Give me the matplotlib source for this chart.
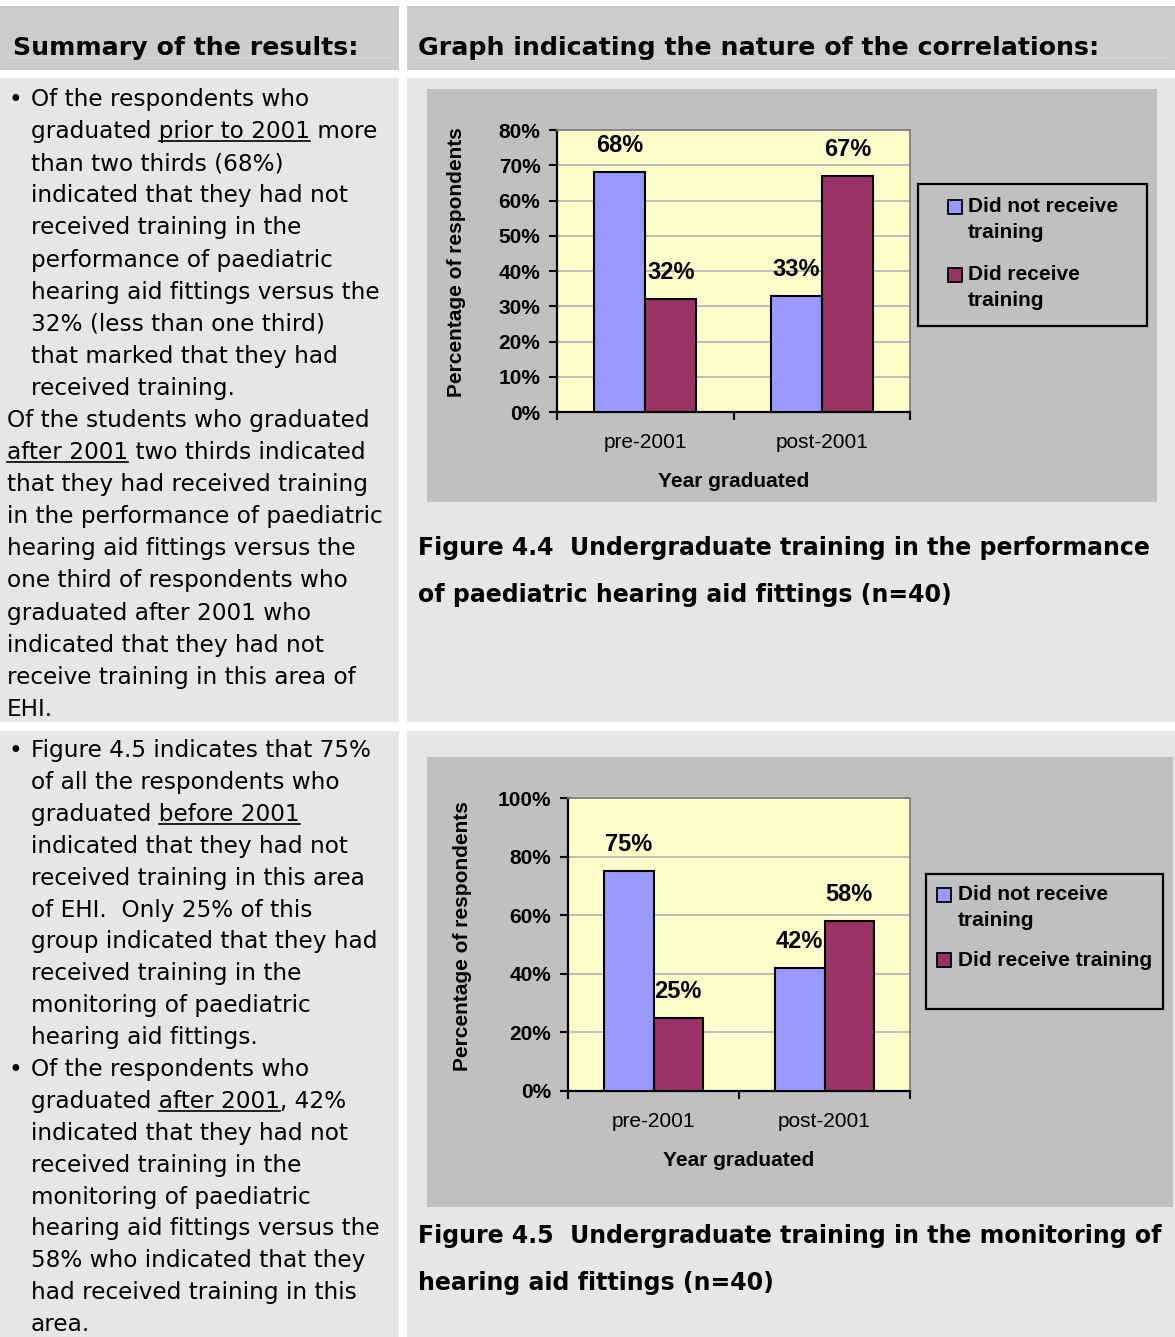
import numpy as np
import matplotlib
matplotlib.use('Agg')
import matplotlib.pyplot as plt
from matplotlib.patches import Rectangle
from matplotlib.lines import Line2D

plt.rcParams['font.family'] = ['Liberation Sans', 'DejaVu Sans']

W, H = 1175, 1337

# chart data
years = ['pre-2001', 'post-2001']
perf_not_trained = [68, 33]
perf_trained = [32, 67]
mon_not_trained = [75, 42]
mon_trained = [25, 58]
colors = ['#9999ff', '#993366']
legend_perf = ['Did not receive\ntraining', 'Did receive\ntraining']
legend_mon = ['Did not receive\ntraining', 'Did receive training']

head_left = 'Summary of the results:'
head_right = 'Graph indicating the nature of the correlations:'
caption_perf = ['Figure 4.4  Undergraduate training in the performance',
                'of paediatric hearing aid fittings (n=40)']
caption_mon = ['Figure 4.5  Undergraduate training in the monitoring of',
               'hearing aid fittings (n=40)']

# b = bullet line, i = indented line, p = plain; _text_ is underlined
summary_perf = [
    ('b', 'Of the respondents who'),
    ('i', 'graduated _prior to 2001_ more'),
    ('i', 'than two thirds (68%)'),
    ('i', 'indicated that they had not'),
    ('i', 'received training in the'),
    ('i', 'performance of paediatric'),
    ('i', 'hearing aid fittings versus the'),
    ('i', '32% (less than one third)'),
    ('i', 'that marked that they had'),
    ('i', 'received training.'),
    ('p', 'Of the students who graduated'),
    ('p', '_after 2001_ two thirds indicated'),
    ('p', 'that they had received training'),
    ('p', 'in the performance of paediatric'),
    ('p', 'hearing aid fittings versus the'),
    ('p', 'one third of respondents who'),
    ('p', 'graduated after 2001 who'),
    ('p', 'indicated that they had not'),
    ('p', 'receive training in this area of'),
    ('p', 'EHI.'),
]
summary_mon = [
    ('b', 'Figure 4.5 indicates that 75%'),
    ('i', 'of all the respondents who'),
    ('i', 'graduated _before 2001_'),
    ('i', 'indicated that they had not'),
    ('i', 'received training in this area'),
    ('i', 'of EHI.  Only 25% of this'),
    ('i', 'group indicated that they had'),
    ('i', 'received training in the'),
    ('i', 'monitoring of paediatric'),
    ('i', 'hearing aid fittings.'),
    ('b', 'Of the respondents who'),
    ('i', 'graduated _after 2001_, 42%'),
    ('i', 'indicated that they had not'),
    ('i', 'received training in the'),
    ('i', 'monitoring of paediatric'),
    ('i', 'hearing aid fittings versus the'),
    ('i', '58% who indicated that they'),
    ('i', 'had received training in this'),
    ('i', 'area.'),
]

fig = plt.figure(figsize=(W / 100, H / 100), dpi=100)
fig.patch.set_facecolor('white')
renderer = fig.canvas.get_renderer()


def fx(x):
    return x / W


def fy(y):
    return 1 - y / H


def rect(x0, y0, x1, y1, color, z=-5, **kw):
    r = Rectangle((fx(x0), fy(y1)), (x1 - x0) / W, (y1 - y0) / H,
                  transform=fig.transFigure, facecolor=color, zorder=z, **kw)
    fig.add_artist(r)


def tw(s, **kw):
    t = fig.text(0, 0, s, **kw)
    w = t.get_window_extent(renderer).width
    t.remove()
    return w


# table cells
rect(0, 6, 399, 70, '#cccccc', edgecolor='none')
rect(407, 6, 1175, 70, '#cccccc', edgecolor='none')
rect(0, 78, 399, 722, '#e6e6e6', edgecolor='none')
rect(407, 78, 1175, 722, '#e6e6e6', edgecolor='none')
rect(0, 731, 399, 1337, '#e6e6e6', edgecolor='none')
rect(407, 731, 1175, 1337, '#e6e6e6', edgecolor='none')
for x0, x1 in ((6, 392), (414, 1168)):
    fig.add_artist(Line2D([fx(x0), fx(x1)], [fy(57), fy(57)], color='#d8d8d8',
                          lw=1, transform=fig.transFigure, zorder=-4))

# chart backgrounds
rect(427, 89, 1157, 502, '#c0c0c0', edgecolor='none')
rect(427, 757, 1173, 1207, '#c0c0c0', edgecolor='none')

hfont = dict(family='DejaVu Sans', fontweight='bold', fontsize=18.2)
fig.text(fx(13), fy(45), head_left, va='center_baseline', **hfont)
fig.text(fx(418), fy(45), head_right, va='center_baseline', **hfont)

bfont = dict(family='DejaVu Sans', fontsize=16.7, color='black')


def write_lines(lines, y0, step):
    for k, (kind, line) in enumerate(lines):
        y = y0 + k * step
        x = 7 if kind == 'p' else 31
        if kind == 'b':
            fig.text(fx(9), fy(y), '\u2022', va='baseline', ha='left', **bfont)
        parts = line.split('_')
        plain = ''.join(parts)
        fig.text(fx(x), fy(y), plain, va='baseline', ha='left', **bfont)
        prefix = ''
        for j, p in enumerate(parts):
            if j % 2 == 1:
                start = x + (tw(prefix + 'l', **bfont) - tw('l', **bfont) if prefix else 0)
                end = x + tw(prefix + p, **bfont)
                fig.add_artist(Line2D([fx(start), fx(end)], [fy(y + 3), fy(y + 3)],
                                      color='black', lw=1.2, transform=fig.transFigure))
            prefix += p


write_lines(summary_perf, 106, 32.1)
write_lines(summary_mon, 757, 31.9)


def draw_chart(plot_px, ymax, ystep, not_trained, trained, ylab_x, xlab_y,
               leg_px, sq_x, sq_tops, text_x, labels):
    l, t, r, b = plot_px
    ax = fig.add_axes([fx(l), fy(b), (r - l) / W, (b - t) / H])
    ax.set_facecolor('#ffffcc')
    x = np.arange(len(years)) + 0.5
    w = 0.29
    b1 = ax.bar(x - w / 2, not_trained, w, color=colors[0], edgecolor='black',
                linewidth=1.5, zorder=3)
    b2 = ax.bar(x + w / 2, trained, w, color=colors[1], edgecolor='black',
                linewidth=1.5, zorder=3)
    for bars, vals in ((b1, not_trained), (b2, trained)):
        for bar, v in zip(bars, vals):
            ax.annotate(f'{v}%', (bar.get_x() + bar.get_width() / 2, v),
                        xytext=(0, 19), textcoords='offset points',
                        ha='center', va='center', fontsize=17, fontweight='bold')
    ax.set_xlim(0, 2)
    ax.set_ylim(0, ymax)
    ax.set_yticks(np.arange(0, ymax + 1, ystep))
    ax.yaxis.set_major_formatter(lambda v, p: f'{v:.0f}%')
    ax.grid(axis='y', color='#b8b8b8', linewidth=1.3)
    ax.set_axisbelow(True)
    ax.set_xticks([0, 1, 2])
    ax.set_xticklabels([])
    ax.set_xticks(x, minor=True)
    ax.set_xticklabels(years, minor=True)
    ax.tick_params(axis='x', which='minor', length=0, pad=15, labelsize=15)
    ax.tick_params(axis='x', which='major', length=6, width=1.5, direction='out')
    ax.tick_params(axis='y', length=6, width=1.5, pad=6, labelsize=15)
    for lab in ax.get_yticklabels():
        lab.set_fontweight('bold')
    for s in ('left', 'bottom'):
        ax.spines[s].set_color('black')
        ax.spines[s].set_linewidth(1.6)
    for s in ('top', 'right'):
        ax.spines[s].set_color('#808080')
        ax.spines[s].set_linewidth(1.3)
    ax.set_ylabel('Percentage of respondents', fontsize=15, fontweight='bold', va='center')
    ax.yaxis.set_label_coords((ylab_x - l) / (r - l), 0.53)
    ax.set_xlabel('Year graduated', fontsize=15, fontweight='bold', va='center')
    ax.xaxis.set_label_coords(0.5, (b - xlab_y) / (b - t))

    # legend box
    lx0, ly0, lx1, ly1 = leg_px
    fig.add_artist(Rectangle((fx(lx0), fy(ly1)), (lx1 - lx0) / W, (ly1 - ly0) / H,
                             transform=fig.transFigure, facecolor='#c0c0c0',
                             edgecolor='black', linewidth=1.6))
    for top, lab, c in zip(sq_tops, labels, colors):
        fig.add_artist(Rectangle((fx(sq_x), fy(top + 14)), 14 / W, 14 / H,
                                 transform=fig.transFigure, facecolor=c,
                                 edgecolor='black', linewidth=1.3))
        for k, part in enumerate(lab.split('\n')):
            fig.text(fx(text_x), fy(top + 7 + 26 * k), part, fontsize=15,
                     fontweight='bold', va='center', ha='left')
    return ax


draw_chart((557, 130, 910, 412), 80, 10, perf_not_trained, perf_trained, 456, 481,
           (918, 184, 1147, 326), 948, (200, 268), 968, legend_perf)
draw_chart((568, 798, 910, 1091), 100, 20, mon_not_trained, mon_trained, 462, 1160,
           (926, 874, 1163, 1009), 937, (888, 953), 958, legend_mon)

cfont = dict(family='DejaVu Sans', fontweight='bold', fontsize=17)
for k, line in enumerate(caption_perf):
    fig.text(fx(418), fy(555 + 47 * k), line, va='baseline', **cfont)
for k, line in enumerate(caption_mon):
    fig.text(fx(418), fy(1243 + 47 * k), line, va='baseline', **cfont)

fig.savefig('out.png', dpi=100)
